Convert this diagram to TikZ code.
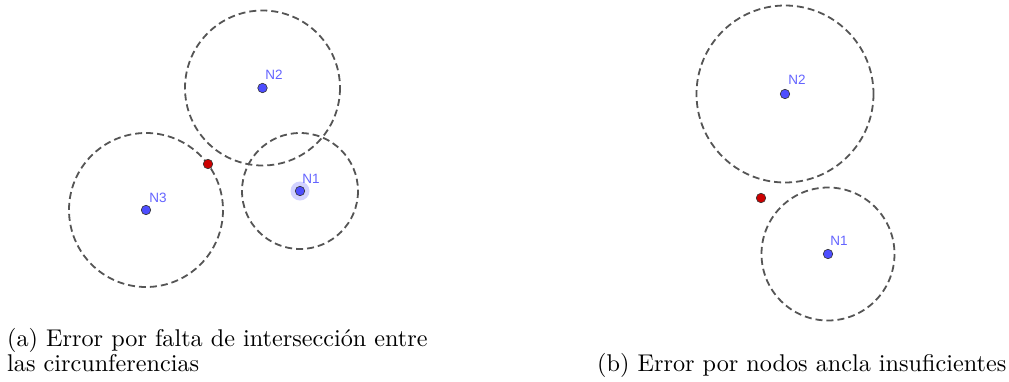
\documentclass[tikz,border=0pt]{standalone}
\usepackage{fontspec}
\newfontfamily\lblfont{Liberation Sans}
\definecolor{ptblue}{RGB}{77,77,255}
\definecolor{lblblue}{RGB}{100,100,255}
\definecolor{ptred}{RGB}{204,0,0}
\definecolor{circgray}{RGB}{85,85,85}
\newcommand{\captxt}[1]{\scalebox{2.42}{\fontsize{10}{12}\selectfont #1}}
\tikzset{
  circ/.style={draw=circgray, line width=1.8pt, dash pattern=on 7pt off 4pt},
  bpt/.style={circle, fill=ptblue, draw=black!80, line width=0.6pt, inner sep=0pt, minimum size=9.5pt},
  rpt/.style={circle, fill=ptred, draw=black!80, line width=0.6pt, inner sep=0pt, minimum size=9.5pt},
  lbl/.style={text=lblblue, font=\lblfont\fontsize{13.5}{13.5}\selectfont, inner sep=0pt},
  captext/.style={inner sep=0pt, anchor=base west}
}
\begin{document}
\begin{tikzpicture}[x=1pt,y=-1pt]
\useasboundingbox (0,0) rectangle (1009,381);
% (a)
\draw[circ] (262.5,88) circle (77.5);
\draw[circ] (300,191) circle (58);
\draw[circ] (146,210) circle (77);
\fill[ptblue!25] (300,191) circle (9.5);
\node[bpt] (a2) at (262.5,88) {};
\node[bpt] (a1) at (300,191) {};
\node[bpt] (a3) at (146,210) {};
\node[rpt] (ar) at (208,164) {};
\node[lbl] at (274,75) {N2};
\node[lbl] at (311,179) {N1};
\node[lbl] at (158,198) {N3};
% (b)
\draw[circ] (785,94) circle (88.5);
\draw[circ] (828,254) circle (66.5);
\node[bpt] (b2) at (785,94) {};
\node[bpt] (b1) at (828,254) {};
\node[rpt] (br) at (761,198) {};
\node[lbl] at (797,80) {N2};
\node[lbl] at (839,241) {N1};
% captions
\node[captext] (capa1) at (7,346) {\captxt{(a) Error por falta de intersección entre}};
\node[captext] (capa2) at (7,371) {\captxt{las circunferencias}};
\node[captext] (capb) at (597,371) {\captxt{(b) Error por nodos ancla insuficientes}};
\end{tikzpicture}
\end{document}
